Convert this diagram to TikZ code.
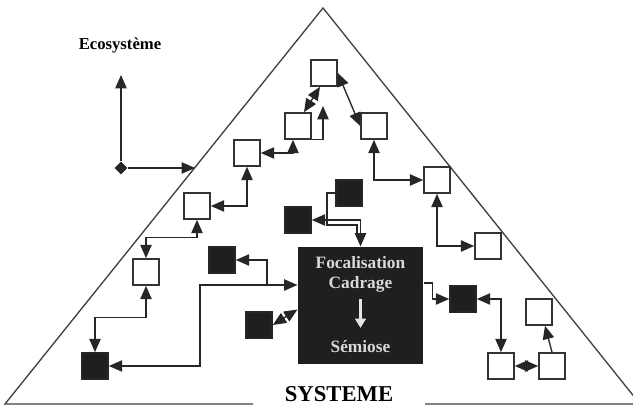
\documentclass[tikz,border=0pt]{standalone}
\usepackage{fontspec}
\setmainfont{Liberation Serif}
\usetikzlibrary{arrows.meta,shapes.geometric}

\begin{document}
\begin{tikzpicture}[x=0.75pt, y=-0.75pt, thick]
\tikzstyle{cellw}=[rectangle, draw=black!80, fill=white, line width=1.2pt, minimum size=19.5pt, inner sep=0pt]
\tikzstyle{cellb}=[rectangle, draw=black!85, fill=black!88, line width=1.2pt, minimum size=19.5pt, inner sep=0pt]
\tikzstyle{drawstyle}=[line width=1pt, black!85, -{Triangle[length=10pt,width=8.5pt]}]
\tikzstyle{bothstyle}=[drawstyle, {Triangle[length=10pt,width=8.5pt]}-{Triangle[length=10pt,width=8.5pt]}]
\tikzstyle{tristyle}=[line width=1pt, black!75]

\useasboundingbox (0,0) rectangle (633,406);

% the pyramid
\draw[tristyle] (253,404) -- (5,404) -- (323,8) -- (640,404) -- (425,404);
\node[font=\fontsize{17}{20}\selectfont\bfseries] (Sys) at (339,394) {SYSTEME};

% ecosystem axes
\node[font=\fontsize{12.5}{15}\selectfont\bfseries] (Eco) at (120,46) {Ecosystème};
\node[diamond, fill=black!85, minimum width=10pt, minimum height=10pt, inner sep=0pt] (O) at (121,168) {};
\coordinate (OY) at (121,75);
\coordinate (OX) at (195,168);
\draw[drawstyle] (O) -- (OY);
\draw[drawstyle] (O) -- (OX);

% focus box
\node[rectangle, fill=black!88, minimum width=93.75pt, minimum height=87.75pt] (Foc) at (360.5,305.5) {};
\node[font=\fontsize{13}{15.6}\selectfont\bfseries, text=white!85!black, align=center] (FocT) at (360.5,274.5) {Focalisation\\Cadrage};
\node[font=\fontsize{13}{15.6}\selectfont\bfseries, text=white!85!black] (FocS) at (360.5,347) {Sémiose};
\draw[white!90!black, line width=2.8pt, -{Triangle[length=7pt,width=8pt]}, shorten <=1pt, shorten >=6pt] (FocT) -- (FocS);

% white cells
\node[cellw] (W1) at (247,153) {};
\node[cellw] (W2) at (298,126) {};
\node[cellw] (W3) at (324,73) {};
\node[cellw] (W4) at (374,126) {};
\node[cellw] (W5) at (437,180) {};
\node[cellw] (W6) at (488,246) {};
\node[cellw] (W7) at (539,312) {};
\node[cellw] (W8) at (501,366) {};
\node[cellw] (W9) at (552,366) {};
\node[cellw] (W10) at (146,272) {};
\node[cellw] (W11) at (197,206) {};

% black cells
\node[cellb] (B1) at (349,193) {};
\node[cellb] (B2) at (298,220) {};
\node[cellb] (B3) at (222,260) {};
\node[cellb] (B4) at (259,325) {};
\node[cellb] (B5) at (95,366) {};
\node[cellb] (B6) at (463,299) {};

\coordinate (W3in) at (323,106);
\coordinate (kT) at (327,220);
\coordinate (kL) at (200,285);
\coordinate (kB) at (267,285);

\draw[bothstyle] (W11.east) -| (W1.south);
\draw[bothstyle] (W1.east) -| ([xshift=-3.75pt]W2.south);
\draw[bothstyle] ([xshift=4.5pt]W2.north) -- ([xshift=-3pt]W3.south);
\draw[drawstyle] (W2.south east) -| (W3in);
\draw[bothstyle] (W3.east) -- (W4.west);
\draw[bothstyle] (W4.south) |- (W5.west);
\draw[bothstyle] (W5.south) |- (W6.west);
\draw[bothstyle] (W10.north) -- ++(0,-21) -| (W11.south);
\draw[bothstyle] (W10.south) -- ++(0,32) -| (B5.north);
\draw[bothstyle] (B5.east) -| (kL) -- (Foc.west |- kL);
\draw[drawstyle] (kB) |- (B3.east);
\draw[drawstyle] (B1.west) -| (kT) -- (B2.east);
\draw[drawstyle] (kT) -| (Foc.north);
\draw[line width=1pt, black!85] (kT) -- ++(0,5) -- ++(30,0) -- ++(0,10);
\draw[bothstyle] (B4.east) -- ([yshift=-3pt]Foc.west);
\draw[drawstyle] ([yshift=16.9pt]Foc.east) -- ++(9,0) |- (B6.west);
\draw[bothstyle] (B6.east) -| (W8.north);
\draw[bothstyle] (W8.east) -- (W9.west);
\draw[drawstyle] (W9.north) -- ([xshift=4.5pt]W7.south);
\end{tikzpicture}
\end{document}
